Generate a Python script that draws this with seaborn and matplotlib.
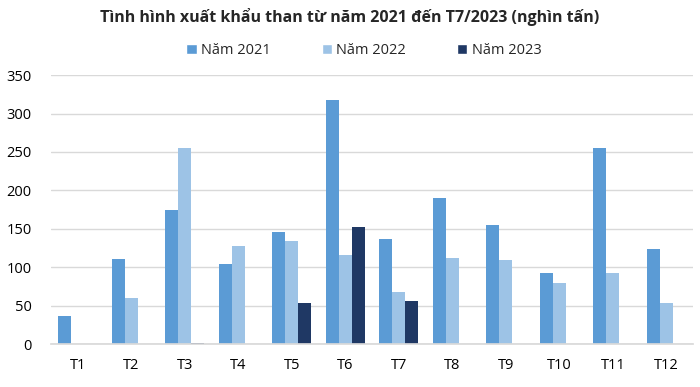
import numpy as np
import pandas as pd
import matplotlib
matplotlib.use("Agg")
import matplotlib.pyplot as plt
import seaborn as sns
from matplotlib.patches import Patch

months = ["T1", "T2", "T3", "T4", "T5", "T6", "T7", "T8", "T9", "T10", "T11", "T12"]
y2021 = [36, 111, 174, 104, 146, 317, 137, 190, 155, 92, 255, 124]
y2022 = [0, 60, 255, 128, 134, 116, 68, 112, 110, 80, 92, 53]
y2023 = [0, 0, 1.5, 0, 53, 152, 56, np.nan, np.nan, np.nan, np.nan, np.nan]
series = ["Năm 2021", "Năm 2022", "Năm 2023"]
colors = ["#5B9BD5", "#9DC3E6", "#1F3864"]

df = pd.DataFrame({
    "month": months * 3,
    "year": [series[0]] * 12 + [series[1]] * 12 + [series[2]] * 12,
    "value": y2021 + y2022 + y2023,
})

sns.set_theme(style="white")
plt.rcParams["font.family"] = ["Open Sans", "DejaVu Sans"]

fig = plt.figure(figsize=(7, 3.87), dpi=100)
ax = fig.add_axes([0.073, 0.111, 0.917, 0.695])

sns.barplot(data=df, x="month", y="value", hue="year", palette=colors,
            width=0.73, ax=ax, legend=False, saturation=1, errorbar=None,
            linewidth=0)

ax.set_ylim(0, 350)
ax.set_yticks(range(0, 351, 50))
ax.yaxis.grid(True, color="#D9D9D9", linewidth=1)
ax.set_axisbelow(True)
for s in ["top", "right", "left"]:
    ax.spines[s].set_visible(False)
ax.spines["bottom"].set_color("#D9D9D9")
ax.set_xlabel("")
ax.set_ylabel("")
ax.tick_params(axis="both", length=0, labelsize=10.5, colors="#000000")
ax.tick_params(axis="x", pad=10)
ax.tick_params(axis="y", pad=14)

fig.text(0.5, 0.955, "Tình hình xuất khẩu than từ năm 2021 đến T7/2023 (nghìn tấn)",
         ha="center", va="center", fontsize=11.5, fontweight="bold")

handles = [Patch(facecolor=c, label=l) for c, l in zip(colors, series)]
fig.legend(handles=handles, loc="center", bbox_to_anchor=(0.52, 0.87), ncol=3,
           frameon=False, fontsize=10.5, handlelength=0.7, handleheight=0.7,
           columnspacing=3.5, handletextpad=0.3)

fig.savefig("out.png", dpi=100)
